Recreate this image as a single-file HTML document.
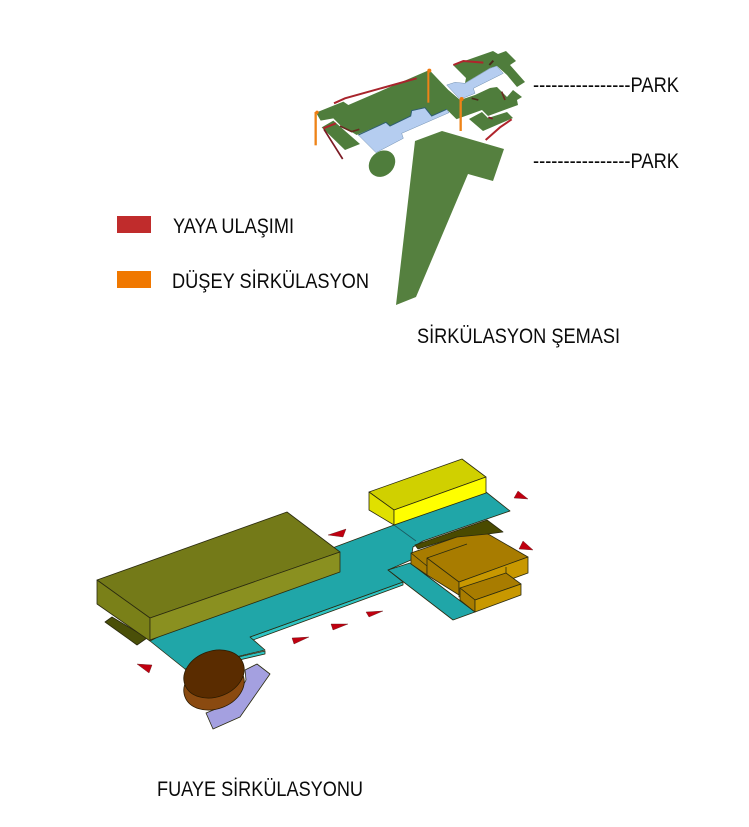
<!DOCTYPE html>
<html><head><meta charset="utf-8"><style>
html,body{margin:0;padding:0;background:#fff}
svg{display:block}
text{font-family:"Liberation Sans",sans-serif;fill:#0a0a0a}
.b polygon{stroke:#2a2a10;stroke-width:.8;stroke-linejoin:round}
</style></head><body>
<svg width="749" height="827" viewBox="0 0 749 827" xmlns="http://www.w3.org/2000/svg">
<rect width="749" height="827" fill="#fff"/>

<!-- big green -->
<polygon points="415,141 442,131 504,149 493,181 468,174 416,297 396,305" fill="#55803f"/>

<!-- right-hand green pieces, page coordinates -->
<g fill="#4f7d3c">
  <polygon points="453,65 493,51 498,54 506,51 516,61 510,65 525,82 517,87 507,75 497,66 490,68 465,83 466,78"/>
  <polygon points="448,90 460,100 475,95 490,88 497,87 503,93 507,97 513,90 522,97 517,100 518,105 488,116 482,110 457,119 447,109"/>
  <polygon points="469,119 482,112 488,118 507,112 513,118 483,131"/>
</g>

<g transform="translate(300,40) scale(.33333)">
  <!-- small left piece -->
  <polygon points="65,262 100,242 180,312 135,330" fill="#4f7d3c"/>
  <!-- main green -->
  <polygon points="48,218 130,185 145,195 388,90 445,150 480,180 470,238 440,208 395,228 375,205 335,213 332,232 270,258 258,247 170,285 120,255 100,235 62,242" fill="#4f7d3c"/>
  <!-- blue -->
  <polygon points="440,135 465,127 495,130 570,85 590,78 610,100 520,145 525,160 480,178" fill="#b5cdf0" stroke="#6f8fb0" stroke-width="1.5"/>
  <polygon points="175,285 258,247 270,258 332,228 335,212 375,203 395,228 440,208 447,218 305,280 310,295 228,338" fill="#b5cdf0" stroke="#6f8fb0" stroke-width="1.5"/>
  <polyline points="175,285 258,247 270,258 332,228 335,212 375,203 395,228 440,208" fill="none" stroke="#2f5f70" stroke-width="3"/>
  <ellipse cx="246" cy="371" rx="43" ry="36" transform="rotate(-45 246 371)" fill="#4f7d3c"/>
  <!-- red paths -->
  <polyline points="102,190 135,175 350,115" fill="none" stroke="#a8242c" stroke-width="6"/>
  <polyline points="460,75 490,63 550,68" fill="none" stroke="#b0242c" stroke-width="6"/>
  <polyline points="557,300 600,262 635,238" fill="none" stroke="#b0242c" stroke-width="6"/>
  <polyline points="70,265 108,250" fill="none" stroke="#b0242c" stroke-width="6"/>
  <polyline points="72,268 128,357" fill="none" stroke="#7c1a24" stroke-width="5"/>
  <polyline points="120,258 155,275 178,268" fill="none" stroke="#6a2a20" stroke-width="5"/>
  <polyline points="605,155 615,180" fill="none" stroke="#6a2a20" stroke-width="5"/>
  <polyline points="515,175 535,180" fill="none" stroke="#4a2a1a" stroke-width="5"/>
  <polyline points="568,75 580,62" fill="none" stroke="#4a2a1a" stroke-width="6"/>
  <polyline points="565,232 578,236" fill="none" stroke="#7c1a24" stroke-width="5"/>
  <!-- orange -->
  <line x1="47" y1="216" x2="47" y2="316" stroke="#ee8318" stroke-width="7"/>
  <line x1="385" y1="92" x2="385" y2="188" stroke="#ee8318" stroke-width="6"/>
  <line x1="482" y1="176" x2="482" y2="273" stroke="#ee8318" stroke-width="7"/>
  <circle cx="51" cy="217" r="5" fill="#ee7a10"/>
  <circle cx="388" cy="92" r="6" fill="#ee7a10"/>
  <circle cx="485" cy="177" r="6" fill="#ee7a10"/>
</g>

<!-- PARK labels -->
<text x="533" y="92" font-size="21" textLength="146" lengthAdjust="spacingAndGlyphs">----------------PARK</text>
<text x="533" y="168" font-size="21" textLength="146" lengthAdjust="spacingAndGlyphs">----------------PARK</text>

<!-- legend -->
<rect x="117" y="216" width="34" height="17" fill="#c02c2c"/>
<rect x="117" y="271" width="34" height="17" fill="#f07800"/>
<text x="173" y="233" font-size="21.5" textLength="121" lengthAdjust="spacingAndGlyphs">YAYA ULAŞIMI</text>
<text x="172" y="288" font-size="21.5" textLength="197" lengthAdjust="spacingAndGlyphs">DÜŞEY SİRKÜLASYON</text>
<text x="417" y="343" font-size="21.5" textLength="203" lengthAdjust="spacingAndGlyphs">SİRKÜLASYON ŞEMASI</text>
<text x="157" y="796" font-size="21.5" textLength="206" lengthAdjust="spacingAndGlyphs">FUAYE SİRKÜLASYONU</text>

<g class="b">
  <!-- dark shadow under olive -->
  <polygon points="105,622 112,617 147,638 137,645" fill="#4a4f08"/>

  <!-- teal lower edge -->
  <polygon points="185,669 188,672 265,654 265,651" fill="#2fc4c4"/>
  <polygon points="250,637 403,582 403,585 253,640" fill="#2fc4c4"/>
  <!-- teal main -->
  <polygon points="150,641 335,547 394,525 486,492 510,511 423,541 413,547 411,560 388,570 403,582 250,637 265,650 185,669" fill="#20a6a8"/>
  <!-- teal lower right -->
  <polygon points="388,570 410,563 475,612 453,620" fill="#20a6a8"/>
  <polyline points="394,525 416,541" fill="none" stroke="#1a5a60" stroke-width=".8"/>

  <!-- dark olive behind orange -->
  <polygon points="415,545 487,520 503,532 488,534 467,544 457,537 418,549" fill="#4a4a00"/>

  <!-- orange blocks -->
  <polygon points="411,553 457,537 488,534 528,557 459,582 427,567" fill="#a87c00"/>
  <polygon points="411,553 427,566 427,575 411,564" fill="#a87c00"/>
  <polygon points="427,558 459,582 459,595 427,575" fill="#a87c00"/>
  <polygon points="459,582 528,557 528,573 506,581 459,597" fill="#c89800"/>
  <polygon points="460,588 506,573 521,584 475,600" fill="#a87c00"/>
  <polygon points="460,588 475,600 475,612 460,600" fill="#a87c00"/>
  <polygon points="475,600 521,584 521,595 475,612" fill="#c89800"/>
  <line x1="427" y1="558" x2="467" y2="544" stroke="#2a2a10" stroke-width=".8"/>
  <line x1="506" y1="567" x2="506" y2="573" stroke="#2a2a10" stroke-width=".8"/>

  <!-- yellow -->
  <polygon points="369,492 462,459 486,477 394,510" fill="#d0d000"/>
  <polygon points="369,492 394,510 394,525 369,510" fill="#e0e000"/>
  <polygon points="394,510 486,477 486,493 394,525" fill="#ffff00"/>

  <!-- olive -->
  <polygon points="97,580 287,512 340,552 150,618" fill="#747a18"/>
  <polygon points="97,580 150,618 150,641 97,604" fill="#7a8018"/>
  <polygon points="150,618 340,552 340,572 150,640" fill="#8a9020"/>

  <!-- lavender -->
  <polygon points="257,664 270,674 240,717 213,729 206,713 223,706 237,697 246,680 245,670" fill="#a4a0e0"/>

  <!-- brown cylinder -->
  <ellipse cx="214" cy="686" rx="31" ry="23" transform="rotate(-20 214 686)" fill="#8a4a10" stroke="#2a1a00" stroke-width=".8"/>
  <ellipse cx="214" cy="674" rx="31" ry="23" transform="rotate(-20 214 674)" fill="#5a2c00" stroke="#2a1a00" stroke-width=".8"/>
</g>

<!-- red triangles -->
<g fill="#c00010" stroke="#602020" stroke-width=".4">
  <polygon points="514,498 518,491 528,499"/>
  <polygon points="519,549 523,541 533,550"/>
  <polygon points="366,612 383,611 369,617"/>
  <polygon points="328,535 346,529 343,537"/>
  <polygon points="331,624 348,624 333,630"/>
  <polygon points="292,638 309,637 294,644"/>
  <polygon points="137,664 152,665 149,673"/>
</g>
</svg>
</body></html>
